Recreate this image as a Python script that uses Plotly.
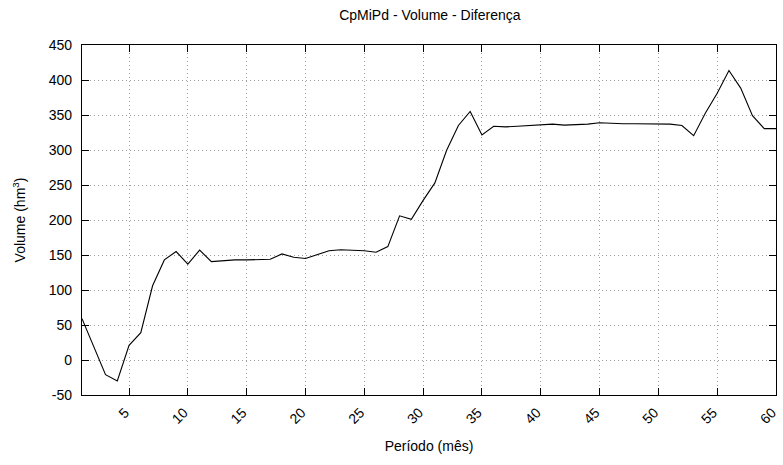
import plotly.graph_objects as go

periodo = list(range(1, 61))
volume = [59, 20, -21, -30, 21, 39, 106, 143, 155, 137,
          157, 140.5, 142, 143, 143, 143, 144, 151.5, 146.7, 145,
          150.5, 156, 157.6, 156.7, 156, 154, 162, 206, 201, 228,
          253, 299.6, 335, 355, 321.5, 334, 333, 334, 335, 335,
          337, 335.6, 336.5, 337, 339, 338, 337.6, 337.6, 337.6, 338,
          337, 335, 320.5, 352.8, 381, 413.6, 388.4, 349, 330.5, 330.5]

x_ticks = list(range(5, 61, 5))
y_ticks = list(range(-50, 451, 50))

FONT = "Liberation Sans, Arial, Helvetica, sans-serif"

fig = go.Figure()
fig.add_trace(go.Scatter(x=periodo, y=volume, mode="lines",
                         line=dict(color="black", width=1.1),
                         showlegend=False, hoverinfo="x+y"))

axis_common = dict(
    showline=True, linecolor="black", linewidth=1.2, mirror="allticks",
    ticks="inside", ticklen=7, tickcolor="black", tickwidth=1,
    showgrid=True, gridcolor="#a0a0a0", gridwidth=1, griddash="1px,3px",
    zeroline=False, tickfont=dict(family=FONT, size=14, color="black"),
    ticklabeloverflow="allow",
)

fig.update_layout(
    width=783, height=465,
    margin=dict(l=82, r=4, t=45, b=70),
    paper_bgcolor="white", plot_bgcolor="white",
    font=dict(family=FONT, size=14, color="black"),
    title=dict(text="CpMiPd - Volume - Diferença", x=0.549, xanchor="center",
               y=0.968, yanchor="middle", font=dict(family=FONT, size=14, color="black")),
    xaxis=dict(range=[1, 60], tickvals=x_ticks, ticktext=[str(v) for v in x_ticks],
               tickangle=-45, ticklabelshift=-4, ticklabelstandoff=3,
               title=dict(text="Período (mês)", font=dict(family=FONT, size=14), standoff=15),
               **axis_common),
    yaxis=dict(range=[-50, 450], tickvals=y_ticks, ticktext=[str(v) for v in y_ticks],
               ticklabelstandoff=6,
               title=dict(text="Volume (hm<sup>3</sup>)", font=dict(family=FONT, size=14), standoff=19),
               **axis_common),
)

fig.write_html("out.html",
               config={"displayModeBar": False},
               post_script="document.body.style.margin='0';document.body.style.padding='0';")
